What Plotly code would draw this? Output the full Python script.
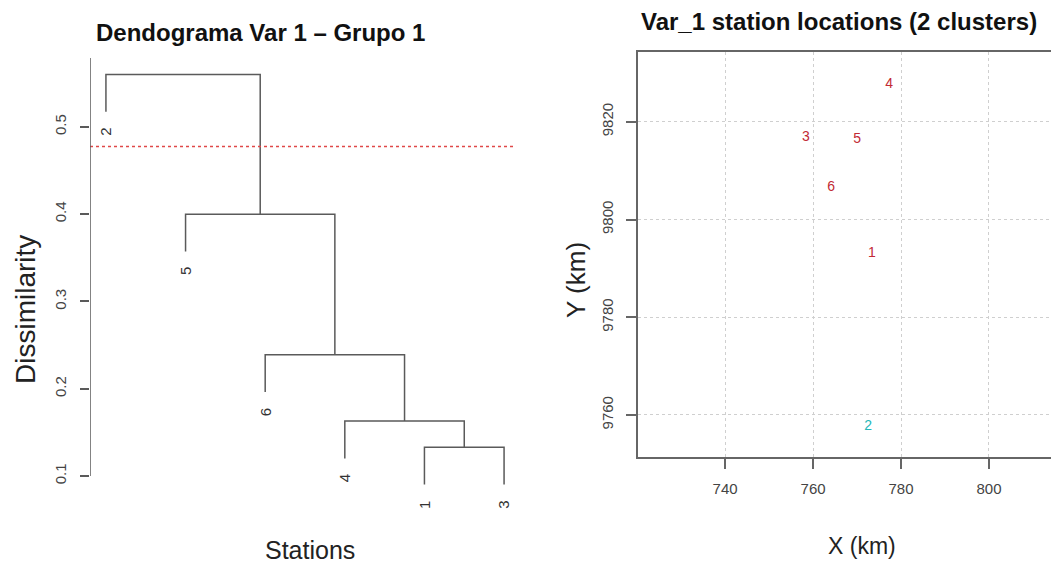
import plotly.graph_objects as go

# ---------------- data ----------------
leaf_order = ["2", "5", "6", "4", "1", "3"]          # left-to-right leaf order
# R-style merge matrix: negative = station id, positive = earlier merge row
merge_pairs = [(-1, -3), (-4, 1), (-6, 2), (-5, 3), (-2, 4)]
merge_heights = [0.133, 0.163, 0.239, 0.400, 0.560]
cut_height = 0.4775
dis_ticks = [0.1, 0.2, 0.3, 0.4, 0.5]

station_ids = ["1", "2", "3", "4", "5", "6"]
station_x = [773.4, 772.5, 758.4, 777.3, 770.0, 764.1]
station_y = [9793.0, 9757.7, 9816.9, 9827.6, 9816.3, 9806.5]
station_cluster = [1, 2, 1, 1, 1, 1]
x_ticks = [740, 760, 780, 800]
y_ticks = [9760, 9780, 9800, 9820]

FONT = "Liberation Sans, Arial, Helvetica, sans-serif"
LINE = "#5a5a5a"
W, H = 1051, 565

# ---------------- dendrogram geometry ----------------
hang = 0.1 * (max(merge_heights) - min(merge_heights))
leaf_pos = {lab: i + 1 for i, lab in enumerate(leaf_order)}
node_x = {}
seg_x, seg_y = [], []
leaf_ends = {}

def child_info(c, parent_h):
    if c < 0:
        lab = str(-c)
        y0 = parent_h - hang
        leaf_ends[lab] = y0
        return leaf_pos[lab], y0
    return node_x[c], merge_heights[c - 1]

for k, (a, b) in enumerate(merge_pairs, start=1):
    h = merge_heights[k - 1]
    xa, ya = child_info(a, h)
    xb, yb = child_info(b, h)
    seg_x += [xa, xa, xb, xb, None]
    seg_y += [ya, h, h, yb, None]
    node_x[k] = (xa + xb) / 2

y_lo = min(leaf_ends.values())
y_hi = max(merge_heights)
pad = 0.04 * (y_hi - y_lo)
yr = [y_lo - pad, y_hi + pad]
xr = [1 - 0.04 * (len(leaf_order) - 1), len(leaf_order) + 0.04 * (len(leaf_order) - 1)]

fig = go.Figure()
fig.add_trace(go.Scatter(x=seg_x, y=seg_y, mode="lines",
                         line=dict(color=LINE, width=1.5),
                         xaxis="x", yaxis="y", showlegend=False, hoverinfo="skip"))

# cut line
fig.add_shape(type="line", xref="x", yref="y", x0=xr[0], x1=xr[1] - 0.05,
              y0=cut_height, y1=cut_height,
              line=dict(color="#e04848", width=1.5, dash="dot"))
# y axis line (R style: from first tick to top)
fig.add_shape(type="line", xref="x", yref="y", x0=xr[0], x1=xr[0],
              y0=dis_ticks[0], y1=yr[1], line=dict(color=LINE, width=1.5))

for lab in leaf_order:
    fig.add_annotation(x=leaf_pos[lab], y=leaf_ends[lab], xref="x", yref="y",
                       text=lab, showarrow=False, textangle=-90,
                       yanchor="middle", xanchor="center", yshift=-20,
                       font=dict(family=FONT, size=15, color="#333333"))

# ---------------- scatter of stations ----------------
cluster_colors = {1: "#c22a35", 2: "#25b7b8"}
fig.add_trace(go.Scatter(x=station_x, y=station_y, mode="text", text=station_ids,
                         textposition="middle center",
                         textfont=dict(family=FONT, size=14,
                                       color=[cluster_colors[c] for c in station_cluster]),
                         xaxis="x2", yaxis="y2", showlegend=False))

TICKFONT = dict(family=FONT, size=15, color="#444444")
fig.update_layout(
    width=W, height=H,
    margin=dict(l=0, r=0, t=0, b=0),
    paper_bgcolor="white", plot_bgcolor="white",
    font=dict(family=FONT),
    xaxis=dict(domain=[90 / W, 520 / W], range=xr, showgrid=False, zeroline=False,
               showticklabels=False, ticks="", showline=False, anchor="y"),
    yaxis=dict(domain=[1 - 501 / H, 1 - 58 / H], range=yr, showgrid=False, zeroline=False,
               tickvals=dis_ticks, ticktext=[f"{v:.1f}" for v in dis_ticks],
               ticks="outside", ticklen=9, tickwidth=1.5, tickcolor=LINE,
               tickangle=-90, tickfont=TICKFONT, ticklabelstandoff=8,
               showline=False, anchor="x"),
    xaxis2=dict(domain=[638 / W, 1.0], range=[720.2, 814.1], anchor="y2",
                tickvals=x_ticks, ticktext=[str(v) for v in x_ticks],
                ticks="outside", ticklen=10, tickwidth=1.5,
                tickcolor="#666666", tickfont=TICKFONT, ticklabelstandoff=7,
                showgrid=True, gridcolor="#cfcfcf", griddash="dot", gridwidth=1.2,
                showline=True, linecolor="#666666", linewidth=1.5, mirror=True,
                zeroline=False),
    yaxis2=dict(domain=[1 - 457 / H, 1 - 52 / H], range=[9751.4, 9834.3], anchor="x2",
                tickvals=y_ticks, ticktext=[str(v) for v in y_ticks],
                ticks="outside", ticklen=10, tickwidth=1.5,
                tickcolor="#666666", tickangle=-90, tickfont=TICKFONT, ticklabelstandoff=7,
                showgrid=True, gridcolor="#cfcfcf", griddash="dot", gridwidth=1.2,
                showline=True, linecolor="#666666", linewidth=1.5,
                zeroline=False),
)

def paper_text(text, px, py, size, bold=False, angle=0, color="#111111"):
    fig.add_annotation(x=px / W, y=1 - py / H, xref="paper", yref="paper",
                       text=f"<b>{text}</b>" if bold else text, showarrow=False,
                       textangle=angle, xanchor="center", yanchor="middle",
                       font=dict(family=FONT, size=size, color=color))

paper_text("Dendograma Var 1 – Grupo 1", 260, 32, 24, bold=True)
paper_text("Var_1 station locations (2 clusters)", 839, 22, 24, bold=True)
paper_text("Dissimilarity", 25, 310, 28, angle=-90, color="#222222")
paper_text("Stations", 310, 550, 25, color="#222222")
paper_text("Y (km)", 576, 280, 26, angle=-90, color="#222222")
paper_text("X (km)", 862, 546, 23, color="#222222")

fig.write_html("out.html")
